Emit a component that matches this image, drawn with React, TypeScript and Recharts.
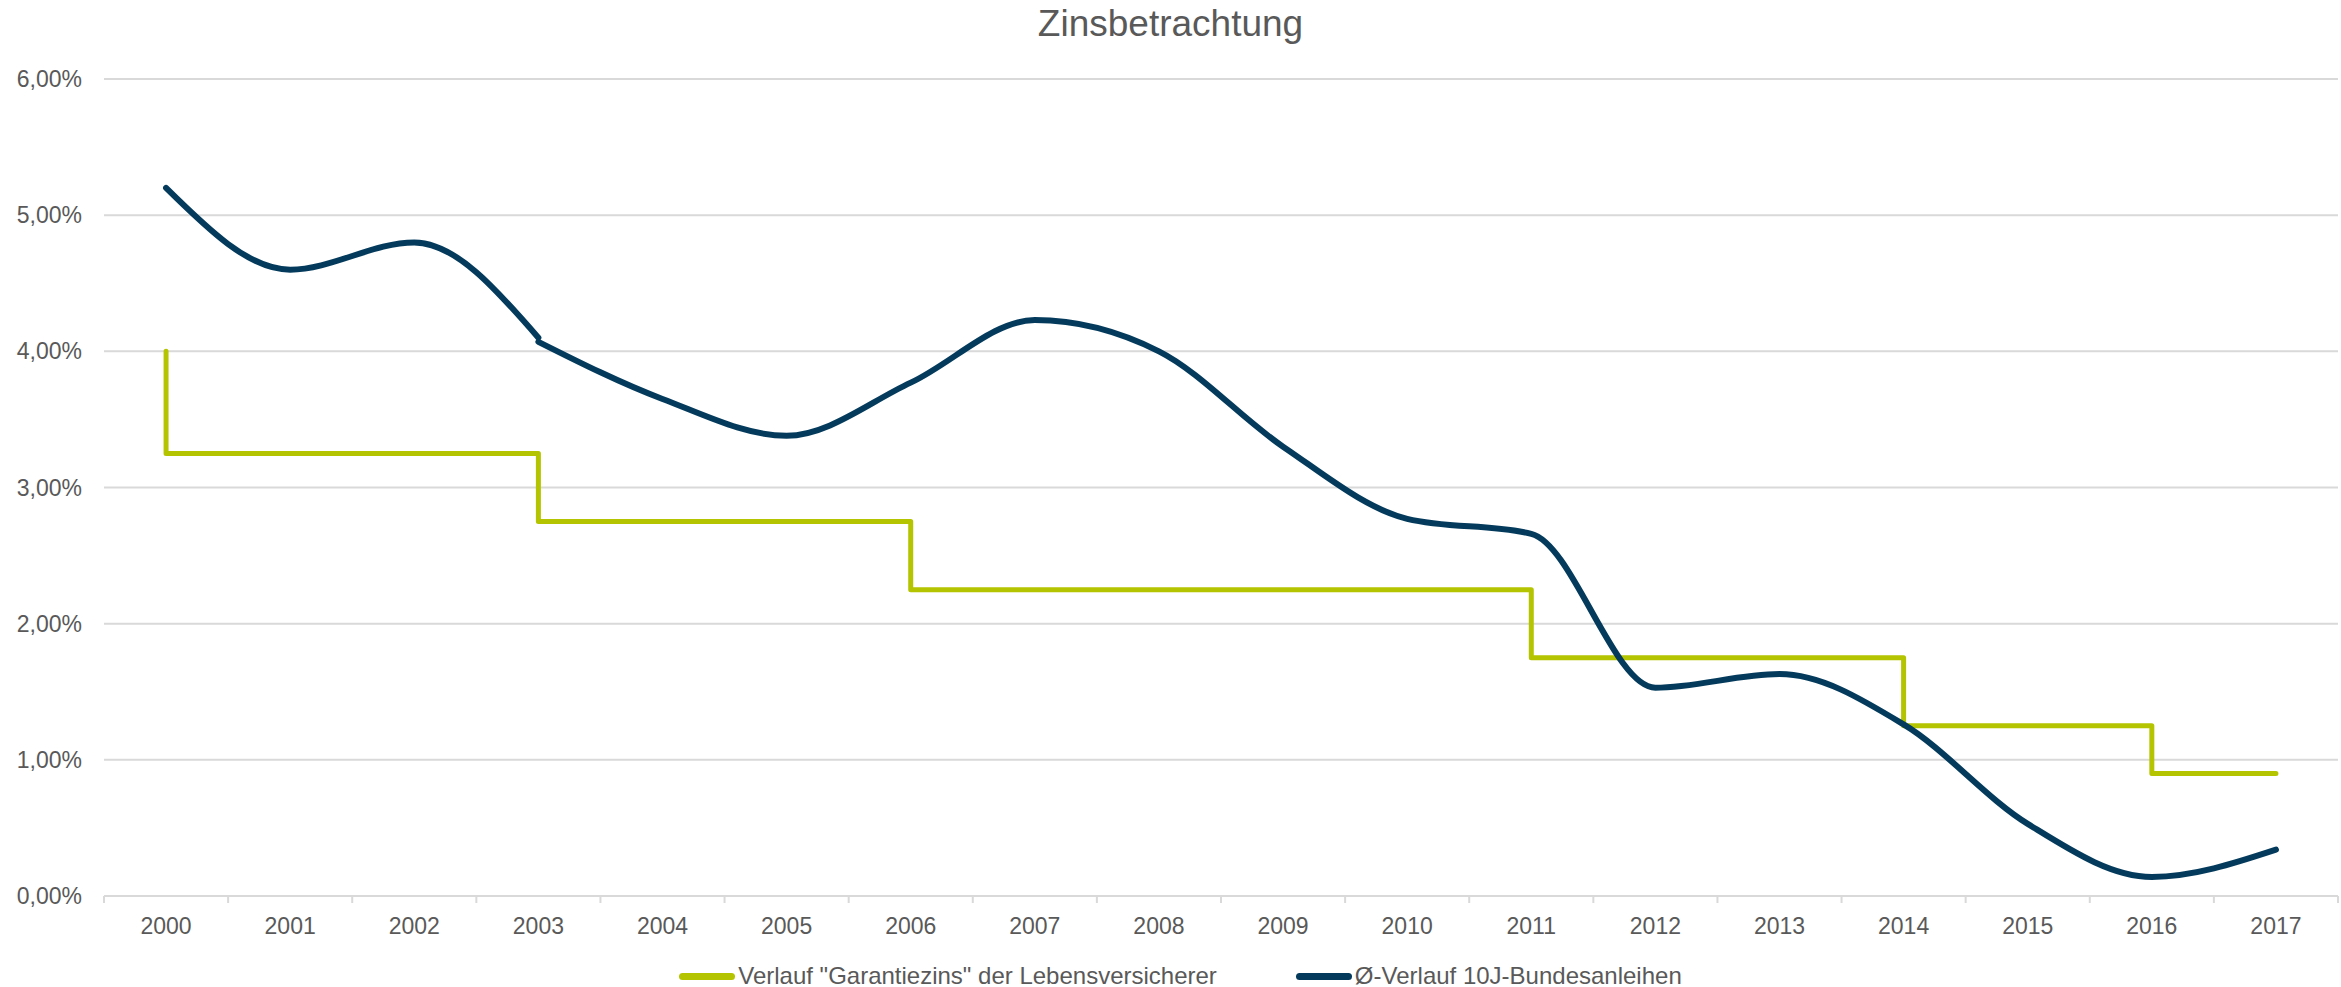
import { LineChart, Line, XAxis, YAxis, CartesianGrid, Legend } from 'recharts'

const jahre = [2000, 2001, 2002, 2003, 2004, 2005, 2006, 2007, 2008, 2009, 2010, 2011, 2012, 2013, 2014, 2015, 2016, 2017]

// Garantiezins der Lebensversicherer je Jahr (Stufen), Startwert vor 2000
const garantiezinsStart = 4.0
const garantiezins = [3.25, 3.25, 3.25, 2.75, 2.75, 2.75, 2.25, 2.25, 2.25, 2.25, 2.25, 1.75, 1.75, 1.75, 1.25, 1.25, 0.9, 0.9]

// Ø-Rendite 10J-Bundesanleihen, Kurve ist 2003 unterbrochen
const bundJahreA = [2000, 2001, 2002, 2003]
const bundWerteA = [5.2, 4.6, 4.8, 4.1]
const bundJahreB = [2003, 2004, 2005, 2006, 2007, 2008, 2009, 2010, 2011, 2012, 2013, 2014, 2015, 2016, 2017]
const bundWerteB = [4.07, 3.65, 3.38, 3.77, 4.23, 4.0, 3.3, 2.77, 2.66, 1.53, 1.63, 1.26, 0.53, 0.14, 0.34]

const yTicks = [0, 1, 2, 3, 4, 5, 6]

const GRUEN = '#b4c400'
const BLAU = '#043b5c'
const GRAU = '#d9d9d9'
const TEXT = '#595959'
const FONT = '"Liberation Sans", Arial, sans-serif'
const X_MARGIN = 22

const garantieDaten = [
  { jahr: jahre[0], wert: garantiezinsStart },
  ...jahre.map((jahr, i) => ({ jahr, wert: garantiezins[i] })),
]
const bundDatenA = bundJahreA.map((jahr, i) => ({ jahr, wert: bundWerteA[i] }))
const bundDatenB = bundJahreB.map((jahr, i) => ({ jahr, wert: bundWerteB[i] }))

// Beschriftung in der Mitte, Teilstriche zwischen den Jahren
const xTicks = [jahre[0] - 0.5, ...jahre.flatMap(j => [j, j + 0.5])]

function JahrTick(props: any) {
  const { x, y, payload } = props
  const v = payload.value
  if (Number.isInteger(v)) {
    return (
      <text x={x} y={y} dy="0.71em" textAnchor="middle" fill={TEXT} fontSize={23} fontFamily={FONT}>
        {v}
      </text>
    )
  }
  return <line x1={x} x2={x} y1={y - X_MARGIN} y2={y - X_MARGIN + 7} stroke={GRAU} strokeWidth={2} />
}

function Legende(props: any) {
  const items = (props.payload || []).filter((it: any) => it.type !== 'none' && it.payload?.legendType !== 'none')
  return (
    <div style={{ display: 'flex', justifyContent: 'center', gap: 79, fontFamily: FONT, fontSize: 24, color: TEXT, paddingLeft: 23, paddingTop: 5 }}>
      {items.map((it: any) => (
        <div key={it.value} style={{ display: 'flex', alignItems: 'center' }}>
          <span style={{ display: 'inline-block', width: 56, height: 7, borderRadius: 4, background: it.color, marginRight: 3 }} />
          <span>{it.value}</span>
        </div>
      ))}
    </div>
  )
}

export default function App() {
  return (
    <div style={{ position: 'absolute', left: 0, top: 0, width: 2341, height: 987, background: '#fff' }}>
      <div style={{ position: 'absolute', left: 0, top: 4, width: 2341, textAlign: 'center', fontFamily: FONT, fontSize: 37, lineHeight: '40px', color: TEXT }}>
        Zinsbetrachtung
      </div>
      <LineChart width={2341} height={987} margin={{ top: 79, right: 3, bottom: 0, left: 0 }}>
        <CartesianGrid vertical={false} stroke={GRAU} strokeWidth={2} />
        <XAxis
          dataKey="jahr"
          type="number"
          domain={[jahre[0] - 0.5, jahre[jahre.length - 1] + 0.5]}
          ticks={xTicks}
          interval={0}
          tick={<JahrTick />}
          tickLine={false}
          tickSize={0}
          tickMargin={X_MARGIN}
          axisLine={{ stroke: GRAU, strokeWidth: 2 }}
          height={61}
        />
        <YAxis
          domain={[0, 6]}
          ticks={yTicks}
          width={104}
          axisLine={false}
          tickLine={false}
          tickSize={0}
          tickMargin={22}
          tick={{ fill: TEXT, fontSize: 23, fontFamily: FONT }}
          tickFormatter={(v: number) => v.toFixed(2).replace('.', ',') + '%'}
        />
        <Legend verticalAlign="bottom" height={30} content={<Legende />} />
        <Line
          data={garantieDaten}
          dataKey="wert"
          name={'Verlauf "Garantiezins" der Lebensversicherer'}
          type="stepAfter"
          stroke={GRUEN}
          strokeWidth={5}
          strokeLinecap="round"
          strokeLinejoin="round"
          dot={false}
          activeDot={false}
          isAnimationActive={false}
        />
        <Line
          data={bundDatenA}
          dataKey="wert"
          name="Ø-Verlauf 10J-Bundesanleihen"
          type="monotone"
          stroke={BLAU}
          strokeWidth={6}
          strokeLinecap="round"
          dot={false}
          activeDot={false}
          isAnimationActive={false}
        />
        <Line
          data={bundDatenB}
          dataKey="wert"
          name="Ø-Verlauf 10J-Bundesanleihen (ab 2003)"
          legendType="none"
          type="monotone"
          stroke={BLAU}
          strokeWidth={6}
          strokeLinecap="round"
          dot={false}
          activeDot={false}
          isAnimationActive={false}
        />
      </LineChart>
    </div>
  )
}
